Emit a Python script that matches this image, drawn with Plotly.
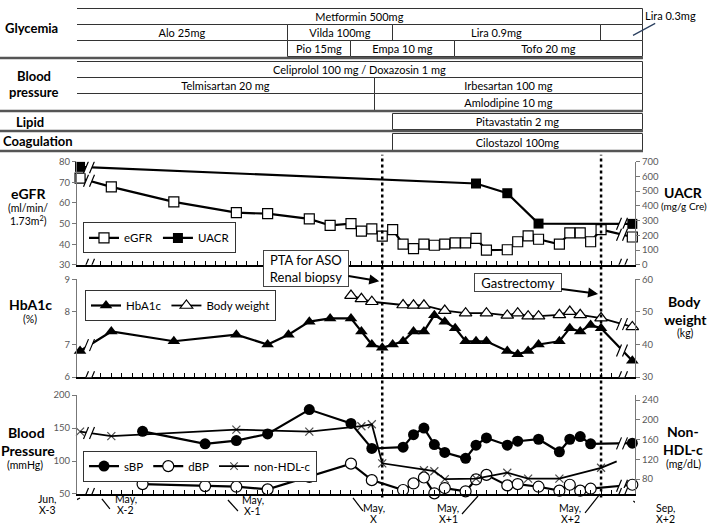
import numpy as np
import plotly.graph_objects as go

# ---------------- Data (x = months since May X-2) ----------------
egfr_month = [-2, 1, 7, 13, 16, 20, 22, 24, 25, 26, 27, 28, 29, 30, 31, 32, 33, 34, 35, 36, 37,
              39, 40, 41, 42, 44, 45, 46, 47, 48, 51]
egfr = [72, 67.8, 60.5, 55.3, 54.8, 52.3, 49.1, 50, 46.3, 47.4, 43.9, 47.1, 40, 37.9, 40, 39.5, 40,
        40.6, 40.6, 42.8, 37.1, 37.3, 41.2, 44, 42.4, 40, 45.5, 45.5, 41.2, 47.1, 43.5]

uacr_month = [-2, 36, 39, 42, 51]
uacr = [665, 552, 486, 280, 278]

hba1c_month = [-2, 1, 7, 13, 16, 18, 20, 22, 24, 25, 26, 27, 28, 29, 30, 31, 32, 33, 34, 35, 36, 37,
               39, 40, 41, 42, 44, 45, 46, 47, 48, 51]
hba1c = [6.8, 7.4, 7.1, 7.3, 7.0, 7.3, 7.7, 7.8, 7.8, 7.4, 7.0, 6.9, 7.0, 7.1, 7.4, 7.4, 7.9, 7.7, 7.5,
         7.1, 7.1, 7.1, 6.8, 6.7, 6.8, 7.0, 7.1, 7.5, 7.4, 7.6, 7.5, 6.5]

bw_month = [24, 25, 26, 29, 30, 31, 33, 35, 37, 39, 40, 41, 42, 44, 45, 46, 48, 51]
bw = [55, 54, 53.1, 52.1, 52, 52, 50.4, 49.6, 49.6, 48.9, 49.6, 48.7, 48.7, 49.1, 50.1, 49.1, 48.1, 45.4]

bp_month = [4, 10, 13, 16, 20, 24, 26, 29, 30, 31, 32, 33, 35, 36, 37, 39, 40, 42, 44, 45, 46, 47, 51]
sbp = [145, 126, 131, 141, 178, 157, 119, 121, 140, 150, 125, 113, 104, 124, 135, 124, 130, 133, 114,
       133, 137, 126, 127]
dbp = [65, 62, 61, 57, 76, 96, 71, 56, 66, 75, 51, 59, 54, 72, 79, 63, 65, 61, 55, 64, 55, 58, 64]

nonhdl_month = [-2, 1, 13, 20, 25, 26, 27, 31, 32, 33, 36, 39, 41, 44, 48, 49.5]
nonhdl = [176, 167, 180, 176, 187, 191, 112, 98, 96, 80, 81, 93, 81, 81, 103, 116]

# medications: name, group, lane, start month, end month
med_name = ["Metformin 500mg", "Alo 25mg", "Vilda 100mg", "Lira 0.9mg", "", "Pio 15mg", "Empa 10 mg",
            "Tofo 20 mg", "Celiprolol 100 mg / Doxazosin 1 mg", "Telmisartan 20 mg", "Irbesartan 100 mg",
            "Amlodipine 10 mg", "Pitavastatin 2 mg", "Cilostazol 100mg"]
med_group = ["Glycemia"] * 8 + ["Blood pressure"] * 4 + ["Lipid", "Coagulation"]
med_lane = [0, 1, 1, 1, 1, 2, 2, 2, 0, 1, 1, 2, 0, 0]
med_start = [-2.3, -2.3, 18, 28, 48, 18, 24, 34, -2.3, -2.3, 26.3, 26.3, 28, 28]
med_end = [52, 18, 28, 48, 52, 24, 34, 52, 52, 26.3, 52, 52, 52, 52]

events = ["PTA for ASO<br>Renal biopsy", "Gastrectomy"]
event_month = [27, 48]

date_month = [-2, 0, 12, 24, 36, 48, 51]
date_mon = ["Jun,", "May,", "May,", "May,", "May,", "May,", "Sep,"]
date_year = ["X-3", "X-2", "X-1", "X", "X+1", "X+2", "X+2"]

# ---------------- Layout helpers ----------------
W, H = 708, 531
FONT = "Lato, sans-serif"
GREY = "#595959"


def px(x):
    return x / W


def py(y):
    return 1 - y / H


M0_PX, PX_PER_M = 100.9, 10.42


def m_at(p):
    return (p - M0_PX) / PX_PER_M


XR = [m_at(77), m_at(635)]
GROUP_TOP = {"Glycemia": 2.7, "Blood pressure": 57, "Lipid": 110.5, "Coagulation": 131}
GROUP_LANES = {"Glycemia": 3, "Blood pressure": 3, "Lipid": 1, "Coagulation": 1}
ROW_H = 16.6

fig = go.Figure()

# ---------- medication timeline ----------
med_y = [GROUP_TOP[g] + ROW_H * (l + 0.5) for g, l in zip(med_group, med_lane)]
fig.add_trace(go.Bar(
    orientation="h", base=med_start, x=[e - s for s, e in zip(med_start, med_end)], y=med_y,
    width=ROW_H, text=med_name, textposition="inside", insidetextanchor="middle",
    constraintext="none", textfont=dict(size=11, color="black", family=FONT),
    marker=dict(color="white", line=dict(color="#333", width=1)),
    xaxis="x4", yaxis="y7", showlegend=False, hoverinfo="skip", cliponaxis=False))

# ---------- eGFR / UACR ----------
fig.add_trace(go.Scatter(x=egfr_month, y=egfr, name="eGFR", mode="lines+markers",
                         line=dict(color="black", width=2.2),
                         marker=dict(symbol="square", size=10, color="white", line=dict(color="black", width=1.2)),
                         xaxis="x", yaxis="y", legend="legend", cliponaxis=False))
fig.add_trace(go.Scatter(x=uacr_month, y=uacr, name="UACR", mode="lines+markers",
                         line=dict(color="black", width=2.2),
                         marker=dict(symbol="square", size=10, color="black"),
                         xaxis="x", yaxis="y2", legend="legend", cliponaxis=False))

# ---------- HbA1c / Body weight ----------
fig.add_trace(go.Scatter(x=hba1c_month, y=hba1c, name="HbA1c", mode="lines+markers",
                         line=dict(color="black", width=2.2),
                         marker=dict(symbol="triangle-up", size=11, color="black"),
                         xaxis="x2", yaxis="y3", legend="legend2", cliponaxis=False))
fig.add_trace(go.Scatter(x=bw_month, y=bw, name="Body weight", mode="lines+markers",
                         line=dict(color="black", width=1.8),
                         marker=dict(symbol="triangle-up", size=11, color="white", line=dict(color="black", width=1.2)),
                         xaxis="x2", yaxis="y4", legend="legend2", cliponaxis=False))

# ---------- Blood pressure / non-HDL ----------
fig.add_trace(go.Scatter(x=bp_month, y=sbp, name="sBP", mode="lines+markers",
                         line=dict(color="black", width=2.2),
                         marker=dict(symbol="circle", size=11, color="black"),
                         xaxis="x3", yaxis="y5", legend="legend3", cliponaxis=False))
fig.add_trace(go.Scatter(x=bp_month, y=dbp, name="dBP", mode="lines+markers",
                         line=dict(color="black", width=2.2),
                         marker=dict(symbol="circle", size=11, color="white", line=dict(color="black", width=1.2)),
                         xaxis="x3", yaxis="y5", legend="legend3", cliponaxis=False))
# last non-HDL point only carries the line end, so no marker there
fig.add_trace(go.Scatter(x=nonhdl_month, y=nonhdl, name="non-HDL-c", mode="lines+markers",
                         line=dict(color="black", width=1.8),
                         marker=dict(symbol="x-thin", size=[8] * (len(nonhdl) - 1) + [0],
                                     line=dict(color="black", width=1.2)),
                         xaxis="x3", yaxis="y6", legend="legend3", cliponaxis=False))


def xax(anchor):
    return dict(domain=[px(77), px(635)], range=XR, anchor=anchor, showline=True, linecolor="black",
                linewidth=1.5, ticks="inside", ticklen=4, tickcolor="black", tickvals=list(range(0, 50)),
                showticklabels=False, showgrid=False, zeroline=False)


def yax(dom, rng, dtick, anchor, side="left", overlay=None):
    d = dict(range=rng, dtick=dtick, anchor=anchor, side=side, showline=True, linecolor="#777",
             linewidth=1, ticks="outside", ticklen=4, tickcolor="#777", showgrid=False, zeroline=False,
             tickfont=dict(size=9.5, color=GREY, family=FONT))
    if overlay:
        d["overlaying"] = overlay
    else:
        d["domain"] = [py(dom[0]), py(dom[1])]
    return d


def leg(x, y):
    return dict(x=px(x), y=py(y), xanchor="left", yanchor="top", orientation="h", bgcolor="white",
                bordercolor="#333", borderwidth=1, font=dict(size=11.5, family=FONT), itemwidth=30,
                tracegroupgap=0)


fig.update_layout(
    width=W, height=H, margin=dict(l=0, r=0, t=0, b=0),
    paper_bgcolor="white", plot_bgcolor="white",
    font=dict(family=FONT, color="black"),
    xaxis=xax("y"), xaxis2=xax("y3"), xaxis3=xax("y5"),
    xaxis4=dict(domain=[px(77), px(643)], range=[m_at(77), m_at(643)], visible=False, anchor="y7"),
    yaxis=yax([264.3, 159], [30, 80], 10, "x"),
    yaxis2=yax(None, [0, 700], 100, "x", "right", "y"),
    yaxis3=yax([379, 279], [6, 9], 1, "x2"),
    yaxis4=yax(None, [30, 60], 10, "x2", "right", "y3"),
    yaxis5=yax([498.3, 397.3], [50, 200], 50, "x3"),
    yaxis6=yax(None, [50, 250], 40, "x3", "right", "y5"),
    yaxis7=dict(domain=[py(150), 1], range=[150, 0], visible=False, anchor="x4"),
    legend=leg(83, 221), legend2=leg(85, 290), legend3=leg(83, 454),
    bargap=0, showlegend=True,
)

# ---------- group separators and labels (top) ----------
for g, top in GROUP_TOP.items():
    bottom = top + ROW_H * GROUP_LANES[g] + 0.5
    fig.add_shape(type="line", xref="paper", yref="y7", x0=0, x1=px(643), y0=bottom, y1=bottom,
                  line=dict(color="#555", width=2.5))

ann = []


def label(text, x, y, size=13, **kw):
    ann.append(dict(text=text, x=px(x), y=py(y), xref="paper", yref="paper", showarrow=False,
                    xanchor="center", yanchor="middle", font=dict(size=size, family=FONT), **kw))


label("<b>Glycemia</b>", 31, 22)
label("<b>Blood</b>", 34, 71)
label("<b>pressure</b>", 33, 88)
label("<b>Lipid</b>", 30, 118)
label("<b>Coagulation</b>", 38, 138)

label("<b>eGFR</b>", 29, 191, 14)
label("(ml/min/", 28, 206, 10.5)
label("1.73m<sup>2</sup>)", 29, 219, 10.5)
label("<b>HbA1c</b>", 30, 305, 14)
label("(%)", 30, 320, 10.5)
label("<b>Blood</b>", 26, 436, 14)
label("<b>Pressure</b>", 28, 454, 14)
label("(mmHg)", 25, 469, 10.5)

label("<b>UACR</b>", 683, 190, 14)
label("(mg/g Cre)", 684, 204, 10)
label("<b>Body</b>", 684, 302, 14)
label("<b>weight</b>", 685, 320, 14)
label("(kg)", 685, 334, 10.5)
label("<b>Non-</b>", 683, 435, 14)
label("<b>HDL-c</b>", 683, 453, 14)
label("(mg/dL)", 683, 468, 10.5)

# Lira 0.3mg callout
ann.append(dict(text="Lira 0.3mg", xref="x4", yref="y7", x=m_at(633), y=30, ax=37, ay=-20,
                showarrow=True, arrowhead=0, arrowwidth=1.2, font=dict(size=11, family=FONT)))

# event boxes with arrows pointing at the dotted event lines
box_center = [(306, 268.7), (518, 283)]
arrow_head_y = [281, 294]
box_size = [(82, 33), (84, 15)]
for txt, m, (cx, cy), hy, (bw_, bh_) in zip(events, event_month, box_center, arrow_head_y, box_size):
    head_px = M0_PX + PX_PER_M * m - 3
    ann.append(dict(text=txt, xref="x3", yref="paper", x=m - 3 / PX_PER_M, y=py(hy),
                    ax=cx - head_px, ay=cy - hy, showarrow=True, arrowhead=2, arrowsize=1,
                    arrowwidth=2, arrowcolor="black", width=bw_, height=bh_, bordercolor="#444",
                    borderwidth=1, bgcolor="white", borderpad=1, font=dict(size=13, family=FONT)))
    fig.add_shape(type="line", xref="x3", yref="paper", x0=m, x1=m, y0=py(502), y1=py(152),
                  line=dict(color="black", width=2.5, dash="dot"))

# date labels under axis (two lines each) with short leader lines to the tick
text_dx = [-33, 25, 27, 23, -28, -31, 33]
text_y = [503.5, 503.5, 504.5, 512.5, 512.5, 512.5, 512.5]
leaders = [(0, -18, -4, -13), (1, 9, -5, -15), (2, 12, -6, -17), (2, 12, -4, -17),
           (2, -14, -2, -20), (-1, -16, 0, -19), (1, 18, -7, -19)]
for m, mon, yr, dx, ty, (x0, x1, y0, y1) in zip(date_month, date_mon, date_year, text_dx, text_y, leaders):
    for i, t in enumerate([mon, yr]):
        ann.append(dict(text=t, xref="x3", yref="paper", x=m, y=py(ty + 11.5 * i), xshift=dx,
                        showarrow=False, font=dict(size=10.5, family=FONT),
                        xanchor="center", yanchor="middle"))
    fig.add_shape(type="line", xref="x3", yref="paper", xsizemode="pixel", ysizemode="pixel",
                  xanchor=m, yanchor=py(498.3), x0=x0, x1=x1, y0=y0, y1=y1,
                  line=dict(color="black", width=1.2))

fig.update_layout(annotations=ann)

# ---------- axis breaks ----------
BREAK_L, BREAK_R = m_at(89.5), m_at(622.5)


def add_break(xref, yref, xm, yv):
    fig.add_shape(type="path", xref=xref, yref=yref, xsizemode="pixel", ysizemode="pixel",
                  xanchor=xm, yanchor=yv, path="M -6,-6 L -1,6 L 5,6 L 0,-6 Z",
                  fillcolor="white", line=dict(color="rgba(0,0,0,0)", width=0))
    fig.add_shape(type="path", xref=xref, yref=yref, xsizemode="pixel", ysizemode="pixel",
                  xanchor=xm, yanchor=yv, path="M -6,-6 L -1,6 M 0,-6 L 5,6",
                  line=dict(color="black", width=1.2))


def brk_series(xref, yref, xs, ys, where):
    for b in where:
        add_break(xref, yref, b, float(np.interp(b, xs, ys)))


brk_series("x", "y2", uacr_month, uacr, [BREAK_L, BREAK_R])
brk_series("x", "y", egfr_month, egfr, [BREAK_L, BREAK_R])
brk_series("x2", "y3", hba1c_month, hba1c, [BREAK_L, BREAK_R])
brk_series("x2", "y4", bw_month, bw, [BREAK_R])
brk_series("x3", "y6", nonhdl_month, nonhdl, [BREAK_L])
brk_series("x3", "y5", bp_month, sbp, [BREAK_R])
brk_series("x3", "y5", bp_month, dbp, [BREAK_R])
for xr, yr, base in [("x", "y", 30), ("x2", "y3", 6), ("x3", "y5", 50)]:
    add_break(xr, yr, BREAK_L, base)
    add_break(xr, yr, BREAK_R, base)

# page has a default 8px body margin; drop it so the figure fills the window
fig.write_html("out.html", config={"displayModeBar": False},
               post_script="document.body.style.margin='0';document.body.style.overflow='hidden';")
